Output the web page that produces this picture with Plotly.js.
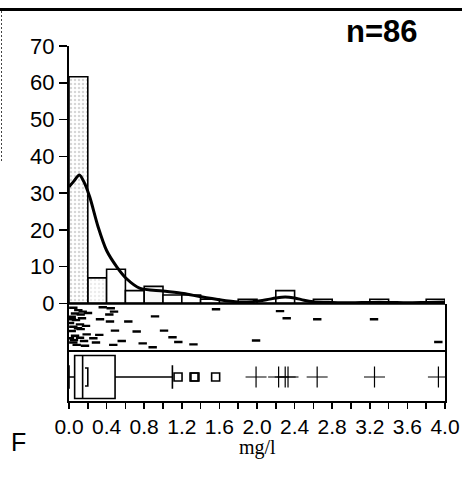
<!DOCTYPE html>
<html><head><meta charset="utf-8">
<script src="https://cdn.plot.ly/plotly-3.0.1.min.js"></script>
<style>
html,body{margin:0;padding:0;background:#fff}
#wrap{position:relative;width:462px;height:477px}
#chart{position:absolute;left:0;top:0;width:462px;height:477px}
#topRule{position:absolute;z-index:10;left:0;top:8px;width:462px;height:3px;background:#000}
#leftRule{position:absolute;z-index:10;left:1px;top:11px;width:1px;height:150px;background:repeating-linear-gradient(#444 0 2px, transparent 2px 4px)}
</style>
</head><body><div id="wrap"><div id="chart"></div><div id="topRule"></div><div id="leftRule"></div></div>
<script>
// ---- data ----
const binStarts = [0.0,0.2,0.4,0.6,0.8,1.0,1.2,1.4,1.6,1.8,2.0,2.2,2.4,2.6,2.8,3.0,3.2,3.4,3.6,3.8];
const binCounts = [53,6,8,3,4,2,2,1,0,1,0,3,0,1,0,0,1,0,0,1];
const binFills  = ['#d6d6d6','#ececec','#ffffff','#ffffff','#f7f7f7','#ffffff','#ffffff','#ffffff','#ffffff','#ffffff','#ffffff','#ffffff','#ffffff','#ffffff','#ffffff','#ffffff','#ffffff','#ffffff','#ffffff','#ffffff'];
const binPattern = ['.','.','','','','','','','','','','','','','','','','','',''];
const nTotal = 86;
const binWidth = 0.2;

const densX = [0.0,0.05,0.11,0.16,0.22,0.31,0.40,0.51,0.61,0.75,1.0,1.22,1.39,1.6,1.8,1.95,2.1,2.2,2.3,2.4,2.5,2.6,2.8,3.0,3.2,3.4,3.6,3.8,4.0];
const densY = [31.7,33.2,34.9,33.0,29.0,20.8,14.4,9.9,6.8,4.2,3.4,2.7,1.9,1.0,0.4,0.5,1.0,1.5,1.8,1.5,0.9,0.5,0.3,0.2,0.3,0.3,0.2,0.3,0.4];

const rugX = [0.046,0.099,0.146,0.064,0.124,0.029,0.074,0.117,0.046,0.181,0.029,0.124,0.188,0.064,0.117,0.259,0.160,0.046,0.287,0.082,0.170,0.011,0.011,0.032,0.096,0.053,0.138,0.202,
              0.359,0.444,0.479,0.330,0.436,0.631,0.489,0.720,0.561,0.784,0.471,0.429,0.322,
              0.915,1.011,1.101,1.163,0.890,1.324,1.564,1.990,2.245,2.316,2.641,3.245,3.929];
const rugY = [0.91,0.86,0.83,0.79,0.77,0.72,0.65,0.56,0.51,0.53,0.42,0.46,0.35,0.32,0.28,0.27,0.21,0.18,0.18,0.13,0.11,0.27,0.59,0.67,0.48,0.23,0.69,0.80,
              0.92,0.90,0.83,0.67,0.62,0.62,0.43,0.41,0.21,0.16,0.13,0.77,0.34,
              0.73,0.43,0.29,0.19,0.08,0.14,0.88,0.22,0.84,0.69,0.67,0.67,0.19];

const boxQ1 = 0.06, boxMedian = 0.145, boxQ3 = 0.49, boxLow = 0.0, boxHigh = 1.10;
const meanBracketX = 0.20;
const nearOutliers = [1.16,1.33,1.34,1.56];
const farOutliers  = [1.99,2.23,2.30,2.33,2.64,3.25,3.93];

const xTickVals = [0,0.2,0.4,0.6,0.8,1.0,1.2,1.4,1.6,1.8,2.0,2.2,2.4,2.6,2.8,3.0,3.2,3.4,3.6,3.8,4.0];
const xTickText = ['0.0','','0.4','','0.8','','1.2','','1.6','','2.0','','2.4','','2.8','','3.2','','3.6','','4.0'];
const yTickVals = [0,10,20,30,40,50,60,70];

// ---- geometry ----
const W = 462, H = 477, mL = 69, mR = 17, mT = 46, mB = 76;
const plotH = H - mT - mB, plotW = W - mL - mR;
const px2paper = p => (H - mB - p) / plotH;
const px2paperX = p => (p - mL) / plotW;
const yHistBottom = px2paper(303.5);
const yRugBottom = px2paper(351);

const binCenters = binStarts.map(s => s + binWidth / 2);
const binPct = binCounts.map(c => c / nTotal * 100);
const boxY = 0.48;

const traces = [
  {type:'bar', x:binCenters, y:binPct, width:binWidth, xaxis:'x', yaxis:'y',
   marker:{color:binFills, line:{color:'#000', width:1.6},
           pattern:{shape:binPattern, fgcolor:'#6e6e6e', size:4, solidity:0.3}},
   showlegend:false},
  {type:'scatter', mode:'lines', x:densX, y:densY, xaxis:'x', yaxis:'y',
   line:{color:'#000', width:3, shape:'spline', smoothing:0.8}, showlegend:false},
  {type:'scatter', mode:'markers', x:rugX, y:rugY, xaxis:'x', yaxis:'y2',
   marker:{symbol:'line-ew-open', size:6, color:'#000', line:{color:'#000', width:2.4}}, showlegend:false},
  {type:'box', orientation:'h', y:[boxY], q1:[boxQ1], median:[boxMedian], q3:[boxQ3],
   lowerfence:[boxLow], upperfence:[boxHigh], width:0.86, whiskerwidth:0.55,
   xaxis:'x', yaxis:'y3', fillcolor:'rgba(0,0,0,0)', line:{color:'#000', width:1.6},
   boxpoints:false, showlegend:false},
  {type:'scatter', mode:'lines', x:[meanBracketX-0.03, meanBracketX, meanBracketX, meanBracketX-0.03],
   y:[boxY+0.18, boxY+0.18, boxY-0.18, boxY-0.18], xaxis:'x', yaxis:'y3',
   line:{color:'#000', width:1.6}, showlegend:false},
  {type:'scatter', mode:'markers', x:nearOutliers, y:nearOutliers.map(() => boxY), xaxis:'x', yaxis:'y3',
   marker:{symbol:'square-open', size:8, color:'#000', line:{color:'#000', width:1.6}}, showlegend:false},
  {type:'scatter', mode:'markers', x:farOutliers, y:farOutliers.map(() => boxY), xaxis:'x', yaxis:'y3',
   marker:{symbol:'cross-thin-open', size:15, color:'#000', line:{color:'#000', width:1.2}}, showlegend:false}
];

const tickFont = {family:'Liberation Sans, Arial, sans-serif', size:21, color:'#000'};

const layout = {
  width:W, height:H, margin:{l:mL, r:mR, t:mT, b:mB, pad:0},
  paper_bgcolor:'rgba(0,0,0,0)', plot_bgcolor:'rgba(0,0,0,0)', bargap:0, showlegend:false,
  xaxis:{domain:[0,1], anchor:'y3', range:[0,4], showgrid:false, zeroline:false,
         showline:true, linecolor:'#000', linewidth:2,
         tickmode:'array', tickvals:xTickVals, ticktext:xTickText,
         ticks:'outside', ticklen:6, tickwidth:1.5, tickcolor:'#000', tickfont:tickFont},
  yaxis:{domain:[yHistBottom,1], anchor:'x', range:[0,70], showgrid:false, zeroline:false,
         showline:true, linecolor:'#000', linewidth:2,
         tickmode:'array', tickvals:yTickVals, ticks:'outside', ticklen:8, tickwidth:1.5,
         tickcolor:'#000', tickfont:{family:'Liberation Sans, Arial, sans-serif', size:22, color:'#000'}},
  yaxis2:{domain:[yRugBottom,yHistBottom], anchor:'x', range:[0,1], showgrid:false, zeroline:false,
          showticklabels:false, ticks:'', showline:true, mirror:true, linecolor:'#000', linewidth:2},
  yaxis3:{domain:[0,yRugBottom], anchor:'x', range:[0,1], showgrid:false, zeroline:false,
          showticklabels:false, ticks:'', showline:true, mirror:true, linecolor:'#000', linewidth:2},
  shapes:[
    {type:'line', xref:'paper', yref:'y2 domain', x0:0, x1:1, y0:1, y1:1, line:{color:'#000', width:2.5}},
    {type:'line', xref:'paper', yref:'y2 domain', x0:0, x1:1, y0:0, y1:0, line:{color:'#000', width:2}}
  ],
  annotations:[
    {text:'<b>n=86</b>', xref:'paper', yref:'paper', x:px2paperX(382), y:px2paper(31),
     xanchor:'center', yanchor:'middle', showarrow:false,
     font:{family:'Liberation Sans, Arial, sans-serif', size:31, color:'#000'}},
    {text:'F', xref:'paper', yref:'paper', x:px2paperX(18), y:px2paper(442),
     xanchor:'center', yanchor:'middle', showarrow:false,
     font:{family:'Liberation Sans, Arial, sans-serif', size:25, color:'#000'}},
    {text:'mg/l', xref:'paper', yref:'paper', x:0.5, y:px2paper(447),
     xanchor:'center', yanchor:'middle', showarrow:false,
     font:{family:'Liberation Serif, Times New Roman, serif', size:20, color:'#000'}}
  ]
};

Plotly.newPlot('chart', traces, layout, {staticPlot:true, displayModeBar:false});
</script>
</body></html>
